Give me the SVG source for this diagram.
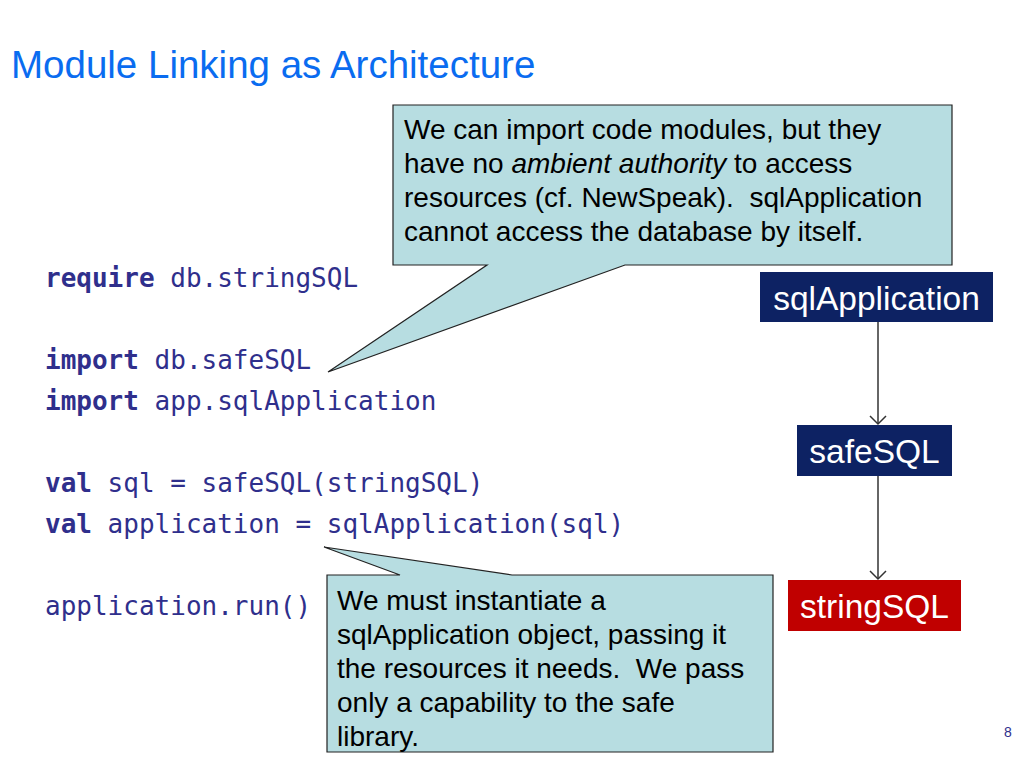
<svg xmlns="http://www.w3.org/2000/svg" width="1024" height="768" viewBox="0 0 1024 768">
<style>
text{white-space:pre}
.title{font-family:"Liberation Sans",Arial,sans-serif;font-size:38.5px;fill:#0a6cf0}
.code{font-family:"DejaVu Sans Mono","Liberation Mono",monospace;font-size:26px;fill:#2f2f8c}
.kw{font-weight:bold}
.note{font-family:"Liberation Sans",Arial,sans-serif;font-size:28px;fill:#000}
.callout{fill:#b7dde1;stroke:#222;stroke-width:1.2}
.node-label{font-family:"Liberation Sans",Arial,sans-serif;font-size:33.5px;fill:#fff;text-anchor:middle}
.edge{stroke:#333;stroke-width:1.5;fill:none}
</style>
<defs>
<marker id="open" markerWidth="20" markerHeight="20" refX="10" refY="10" orient="auto" markerUnits="userSpaceOnUse">
<path d="M2,2 L10,10 L2,18" fill="none" stroke="#333" stroke-width="1.5"/>
</marker>
</defs>
<rect width="1024" height="768" fill="#fff"/>
<text class="title" x="11" y="78">Module Linking as Architecture</text>

<g id="code">
<text class="code" x="45" y="287"><tspan class="kw">require</tspan> db.stringSQL</text>
<text class="code" x="45" y="369"><tspan class="kw">import</tspan> db.safeSQL</text>
<text class="code" x="45" y="410"><tspan class="kw">import</tspan> app.sqlApplication</text>
<text class="code" x="45" y="492"><tspan class="kw">val</tspan> sql = safeSQL(stringSQL)</text>
<text class="code" x="45" y="533"><tspan class="kw">val</tspan> application = sqlApplication(sql)</text>
<text class="code" x="45" y="615">application.run()</text>
</g>

<g id="callout1">
<path class="callout" d="M393,105 H952 V265 H625 L328,372 L487,265 H393 Z"/>
<text class="note" x="404" y="139">We can import code modules, but they</text>
<text class="note" x="404" y="173">have no <tspan font-style="italic">ambient authority</tspan> to access</text>
<text class="note" x="404" y="207">resources (cf. NewSpeak).  sqlApplication</text>
<text class="note" x="404" y="241">cannot access the database by itself.</text>
</g>

<g id="callout2">
<path class="callout" d="M327,575 H400 L324,547 L512,575 H773 V752 H327 Z"/>
<text class="note" x="337" y="610">We must instantiate a</text>
<text class="note" x="337" y="644">sqlApplication object, passing it</text>
<text class="note" x="337" y="678">the resources it needs.  We pass</text>
<text class="note" x="337" y="712">only a capability to the safe</text>
<text class="note" x="337" y="746">library.</text>
</g>

<g id="connectors">
<line class="edge" x1="878" y1="322" x2="878" y2="424" marker-end="url(#open)"/>
<line class="edge" x1="878" y1="476" x2="878" y2="579" marker-end="url(#open)"/>
</g>

<g id="node-sqlApplication">
<rect x="760" y="272" width="233" height="50" fill="#0d2263"/>
<text class="node-label" x="876.5" y="310">sqlApplication</text>
</g>
<g id="node-safeSQL">
<rect x="797" y="425" width="155" height="51" fill="#0d2263"/>
<text class="node-label" x="874.5" y="463">safeSQL</text>
</g>
<g id="node-stringSQL">
<rect x="788" y="580" width="173" height="51" fill="#c00000"/>
<text class="node-label" x="874.5" y="618">stringSQL</text>
</g>

<text x="1008" y="737" font-family="Liberation Sans,Arial,sans-serif" font-size="14" fill="#2f2f8c" text-anchor="middle">8</text>
</svg>
